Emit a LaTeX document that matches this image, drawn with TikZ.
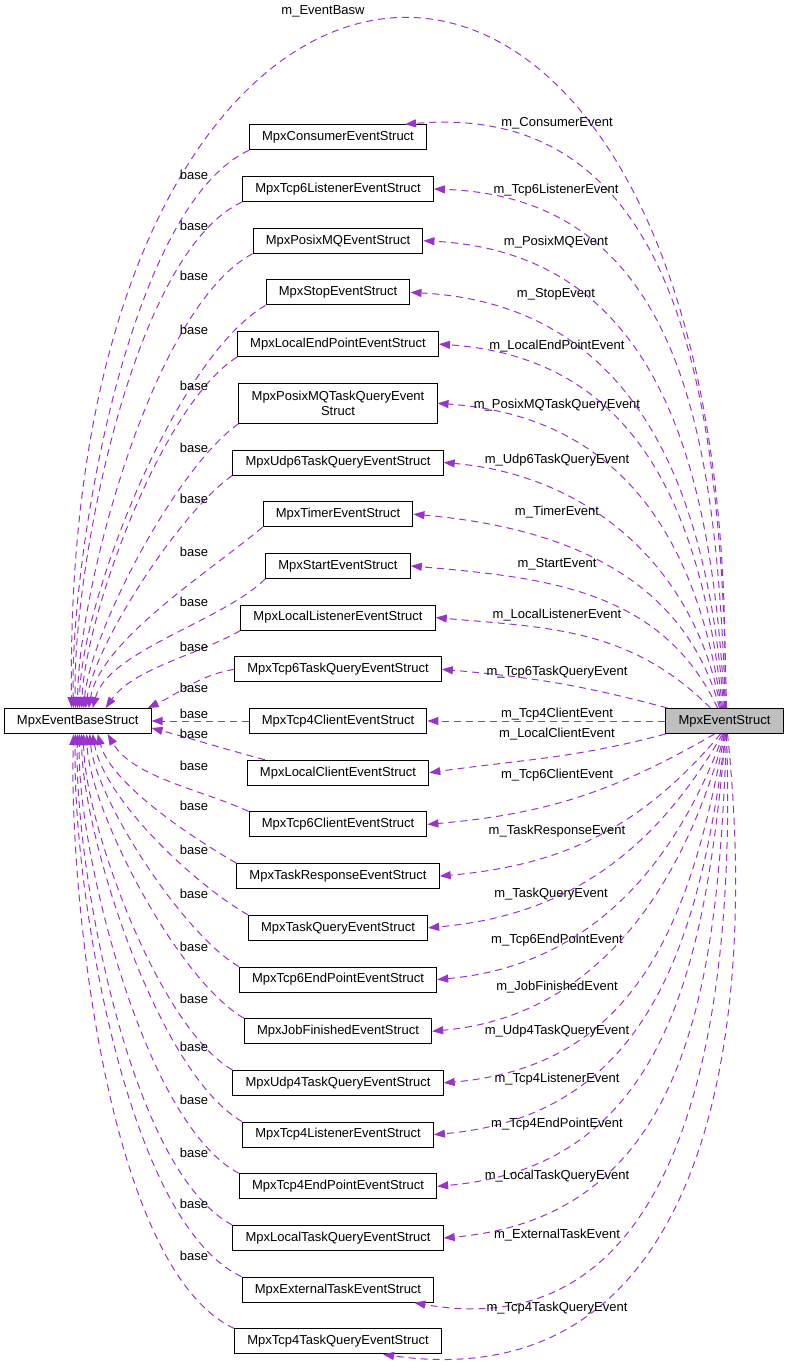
\documentclass[tikz,border=0pt]{standalone}
\usepackage{fontspec}
\setmainfont{Liberation Sans}
\usepackage{xcolor}
\usetikzlibrary{arrows.meta,positioning,calc}

\definecolor{edgec}{HTML}{9A32CD}
\definecolor{mainfill}{HTML}{BFBFBF}

\begin{document}
\begin{tikzpicture}[
  x=1pt, y=-1pt,
  node distance=25.7pt,
  box/.style={rectangle, draw, fill=white, line width=1pt, align=center,
              font=\fontsize{13pt}{15pt}\selectfont, inner xsep=12.7pt,
              inner ysep=2pt, minimum height=25pt},
  lbl/.style={font=\fontsize{13pt}{15pt}\selectfont, inner sep=0pt},
  memb/.style={draw=edgec, line width=1pt, dash pattern=on 7pt off 5pt,
               -{Triangle[length=11pt,width=8pt]}},
  inh/.style={memb}
]
  \useasboundingbox (0,0) rectangle (788,1367);

  % struct column
  \node[box] (tcp4c) at (338,721) {MpxTcp4ClientEventStruct};
  \node[box, above=of tcp4c]   (tcp6tq)   {MpxTcp6TaskQueryEventStruct};
  \node[box, above=of tcp6tq]  (llisten)  {MpxLocalListenerEventStruct};
  \node[box, above=of llisten] (start)    {MpxStartEventStruct};
  \node[box, above=of start]   (timer)    {MpxTimerEventStruct};
  \node[box, above=of timer]   (udp6tq)   {MpxUdp6TaskQueryEventStruct};
  \node[box, above=of udp6tq, minimum height=40pt] (pmqtq) {MpxPosixMQTaskQueryEvent\\Struct};
  \node[box, above=of pmqtq]   (lep)      {MpxLocalEndPointEventStruct};
  \node[box, above=of lep]     (stop)     {MpxStopEventStruct};
  \node[box, above=of stop]    (pmq)      {MpxPosixMQEventStruct};
  \node[box, above=of pmq]     (tcp6l)    {MpxTcp6ListenerEventStruct};
  \node[box, above=of tcp6l]   (consumer) {MpxConsumerEventStruct};
  \node[box, below=of tcp4c]   (lclient)  {MpxLocalClientEventStruct};
  \node[box, below=of lclient] (tcp6c)    {MpxTcp6ClientEventStruct};
  \node[box, below=of tcp6c]   (taskresp) {MpxTaskResponseEventStruct};
  \node[box, below=of taskresp] (taskq)   {MpxTaskQueryEventStruct};
  \node[box, below=of taskq]   (tcp6ep)   {MpxTcp6EndPointEventStruct};
  \node[box, below=of tcp6ep]  (jobfin)   {MpxJobFinishedEventStruct};
  \node[box, below=of jobfin]  (udp4tq)   {MpxUdp4TaskQueryEventStruct};
  \node[box, below=of udp4tq]  (tcp4l)    {MpxTcp4ListenerEventStruct};
  \node[box, below=of tcp4l]   (tcp4ep)   {MpxTcp4EndPointEventStruct};
  \node[box, below=of tcp4ep]  (ltq)      {MpxLocalTaskQueryEventStruct};
  \node[box, below=of ltq]     (ext)      {MpxExternalTaskEventStruct};
  \node[box, below=of ext]     (tcp4tq)   {MpxTcp4TaskQueryEventStruct};

  \node[box, left=97pt of tcp4c] (base) {MpxEventBaseStruct};
  \node[box, fill=mainfill, right=238pt of tcp4c] (main) {MpxEventStruct};

  % members of MpxEventStruct
  \draw[memb] (main.north) .. controls +(22,-939) and +(-12,-899) .. ([xshift=-6pt]base.north)
    node[lbl] at (323,11) {m\_EventBasw};
  \draw[memb] ([xshift=2pt]main.north) to[out=91, in=5, looseness=1.1] ([xshift=-22pt]consumer.north east)
    node[lbl] at (557,123) {m\_ConsumerEvent};
  \draw[memb] ([xshift=1pt]main.north) to[out=92, in=-2, looseness=1.1] (tcp6l.east)
    node[lbl] at (556,190) {m\_Tcp6ListenerEvent};
  \draw[memb] (main.north) to[out=93, in=-3, looseness=1.1] (pmq.east)
    node[lbl] at (556,242) {m\_PosixMQEvent};
  \draw[memb] ([xshift=-1pt]main.north) to[out=94, in=-3, looseness=1.1] (stop.east)
    node[lbl] at (556,294) {m\_StopEvent};
  \draw[memb] ([xshift=-2pt]main.north) to[out=96, in=-4, looseness=1.1] (lep.east)
    node[lbl] at (557,346) {m\_LocalEndPointEvent};
  \draw[memb] ([xshift=-3pt]main.north) to[out=98, in=-4, looseness=1.1] (pmqtq.east)
    node[lbl] at (557,405) {m\_PosixMQTaskQueryEvent};
  \draw[memb] ([xshift=-4pt]main.north) to[out=100, in=-5] (udp6tq.east)
    node[lbl] at (557,460) {m\_Udp6TaskQueryEvent};
  \draw[memb] ([xshift=-5pt]main.north) to[out=105, in=-5] (timer.east)
    node[lbl] at (557,512) {m\_TimerEvent};
  \draw[memb] ([xshift=-7pt]main.north) to[out=115, in=-5] (start.east)
    node[lbl] at (557,564) {m\_StartEvent};
  \draw[memb] ([xshift=-14pt]main.north) to[out=135, in=-5] (llisten.east)
    node[lbl] at (557,615) {m\_LocalListenerEvent};
  \draw[memb] ([xshift=2pt]main.north west) to[out=165, in=-5] (tcp6tq.east)
    node[lbl] at (557,672) {m\_Tcp6TaskQueryEvent};
  \draw[memb] (main.west) -- (tcp4c.east)
    node[lbl] at (557,714) {m\_Tcp4ClientEvent};
  \draw[memb] (main.south west) to[out=195, in=8] (lclient.east)
    node[lbl] at (557,734) {m\_LocalClientEvent};
  \draw[memb] ([xshift=-10pt]main.south) to[out=-150, in=5] (tcp6c.east)
    node[lbl] at (557,775) {m\_Tcp6ClientEvent};
  \draw[memb] ([xshift=-4pt]main.south) to[out=-130, in=5] (taskresp.east)
    node[lbl] at (557,831) {m\_TaskResponseEvent};
  \draw[memb] ([xshift=-2pt]main.south) to[out=-120, in=5] (taskq.east)
    node[lbl] at (551,894) {m\_TaskQueryEvent};
  \draw[memb] ([xshift=-1pt]main.south) to[out=-110, in=5] (tcp6ep.east)
    node[lbl] at (557,940) {m\_Tcp6EndPointEvent};
  \draw[memb] (main.south) to[out=-105, in=5] (jobfin.east)
    node[lbl] at (557,987) {m\_JobFinishedEvent};
  \draw[memb] (main.south) to[out=-100, in=5, looseness=1.1] (udp4tq.east)
    node[lbl] at (557,1031) {m\_Udp4TaskQueryEvent};
  \draw[memb] ([xshift=1pt]main.south) to[out=-97, in=5, looseness=1.1] (tcp4l.east)
    node[lbl] at (557,1079) {m\_Tcp4ListenerEvent};
  \draw[memb] ([xshift=1pt]main.south) to[out=-95, in=5, looseness=1.1] (tcp4ep.east)
    node[lbl] at (557,1124) {m\_Tcp4EndPointEvent};
  \draw[memb] ([xshift=2pt]main.south) to[out=-92, in=5, looseness=1.1] (ltq.east)
    node[lbl] at (557,1176) {m\_LocalTaskQueryEvent};
  \draw[memb] ([xshift=2pt]main.south) to[out=-88, in=-10, looseness=1.1] ([xshift=-20pt]ext.south east)
    node[lbl] at (557,1235) {m\_ExternalTaskEvent};
  \draw[memb] ([xshift=3pt]main.south) to[out=-84, in=-8, looseness=1.15] ([xshift=45pt]tcp4tq.south)
    node[lbl] at (557,1308) {m\_Tcp4TaskQueryEvent};

  % inheritance from MpxEventBaseStruct
  \draw[inh] (consumer.south west) to[out=205, in=92, looseness=0.6] ([xshift=-4pt]base.north)
    node[lbl] at (194,175) {base};
  \draw[inh] (tcp6l.south west) to[out=205, in=92, looseness=0.6] ([xshift=-2pt]base.north)
    node[lbl] at (194,226) {base};
  \draw[inh] (pmq.south west) to[out=208, in=90, looseness=0.6] (base.north)
    node[lbl] at (194,276) {base};
  \draw[inh] (stop.south west) to[out=210, in=90, looseness=0.6] ([xshift=2pt]base.north)
    node[lbl] at (194,330) {base};
  \draw[inh] (lep.south west) to[out=212, in=88, looseness=0.6] ([xshift=4pt]base.north)
    node[lbl] at (194,386) {base};
  \draw[inh] (pmqtq.south west) to[out=215, in=85, looseness=0.6] ([xshift=6pt]base.north)
    node[lbl] at (194,448) {base};
  \draw[inh] (udp6tq.south west) to[out=215, in=82, looseness=0.6] ([xshift=8pt]base.north)
    node[lbl] at (194,499) {base};
  \draw[inh] (timer.south west) to[out=220, in=80, looseness=0.7] ([xshift=11pt]base.north)
    node[lbl] at (194,552) {base};
  \draw[inh] (start.south west) to[out=225, in=75, looseness=0.7] ([xshift=15pt]base.north)
    node[lbl] at (194,602) {base};
  \draw[inh] (llisten.south west) to[out=210, in=55, looseness=0.8] ([xshift=28pt]base.north)
    node[lbl] at (194,647) {base};
  \draw[inh] (tcp6tq.west) to[out=190, in=25] ([xshift=-4pt]base.north east)
    node[lbl] at (194,688) {base};
  \draw[inh] (tcp4c.west) -- (base.east)
    node[lbl] at (194,714) {base};
  \draw[inh] ([xshift=18pt]lclient.north west) to[out=165, in=-15] ([yshift=-7pt]base.east)
    node[lbl] at (194,734) {base};
  \draw[inh] (tcp6c.north west) to[out=155, in=-60, looseness=0.8] ([xshift=30pt]base.south)
    node[lbl] at (194,766) {base};
  \draw[inh] (taskresp.north west) to[out=150, in=-75, looseness=0.7] ([xshift=20pt]base.south)
    node[lbl] at (194,806) {base};
  \draw[inh] (taskq.north west) to[out=150, in=-80, looseness=0.7] ([xshift=15pt]base.south)
    node[lbl] at (194,850) {base};
  \draw[inh] (tcp6ep.north west) to[out=150, in=-85, looseness=0.6] ([xshift=12pt]base.south)
    node[lbl] at (194,894) {base};
  \draw[inh] (jobfin.north west) to[out=150, in=-88, looseness=0.6] ([xshift=9pt]base.south)
    node[lbl] at (194,947) {base};
  \draw[inh] (udp4tq.north west) to[out=150, in=-90, looseness=0.6] ([xshift=6pt]base.south)
    node[lbl] at (194,999) {base};
  \draw[inh] (tcp4l.north west) to[out=150, in=-90, looseness=0.6] ([xshift=4pt]base.south)
    node[lbl] at (194,1047) {base};
  \draw[inh] (tcp4ep.north west) to[out=152, in=-92, looseness=0.6] ([xshift=2pt]base.south)
    node[lbl] at (194,1100) {base};
  \draw[inh] (ltq.north west) to[out=152, in=-92, looseness=0.6] (base.south)
    node[lbl] at (194,1153) {base};
  \draw[inh] (ext.north west) to[out=155, in=-92, looseness=0.6] ([xshift=-2pt]base.south)
    node[lbl] at (194,1204) {base};
  \draw[inh] (tcp4tq.north west) to[out=155, in=-92, looseness=0.6] ([xshift=-4pt]base.south)
    node[lbl] at (194,1256) {base};
\end{tikzpicture}
\end{document}
